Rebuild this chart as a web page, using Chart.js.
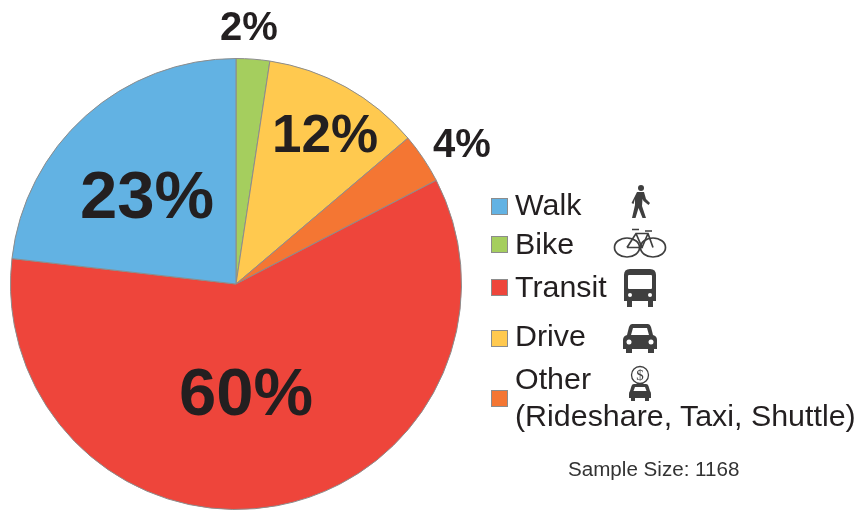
<!DOCTYPE html>
<html>
<head>
<meta charset="utf-8">
<title>Mode share</title>
<script src="https://cdn.jsdelivr.net/npm/chart.js@4"></script>
<style>
  html, body { margin:0; padding:0; background:#fff; }
  #wrap { position:relative; width:858px; height:510px; overflow:hidden; font-family:'Liberation Sans', Arial, sans-serif; color:#231F20; }
  #wrap canvas { position:absolute; left:0; top:0; }
  #icons { position:absolute; left:0; top:0; }
  .swatch { position:absolute; left:491px; width:15px; height:15px; border:1px solid #8c8c8c; }
  .legend-text { position:absolute; left:515px; font-size:29px; line-height:37px; white-space:nowrap; transform:scaleX(1.048); transform-origin:left top; }
  #sample { position:absolute; left:568px; top:458px; font-size:20px; line-height:22px; color:#333; white-space:nowrap; transform:scaleX(1.03); transform-origin:left top; }
</style>
</head>
<body>
<div id="wrap">
  <canvas id="chart-mode" width="858" height="510"></canvas>
  <svg id="icons" width="858" height="510" viewBox="0 0 858 510" fill="#3f3f3f">
    <!-- walker -->
    <circle cx="641" cy="188" r="3"/>
    <path d="M637 192h7l2 7 4 4-1.500 2-5-4-1-2-.5 7 4 12h-3.500l-4-10-3 10h-3.500l3-13v-6l-1.500 5-2-1z"/>
    <!-- bike -->
    <g fill="none" stroke="#3f3f3f" stroke-width="1.700">
      <ellipse cx="627" cy="247.500" rx="12.500" ry="9.500"/>
      <ellipse cx="653" cy="247.500" rx="12.500" ry="9.500"/>
      <path d="M627 247.500l9-14h12l5 14M636 233.500l6 14h-15M648 233.500l-6 14M632 229.500h7M645 231h7"/>
    </g>
    <!-- bus -->
    <path d="M630 269h20q6 0 6 6v26h-3v6h-5v-6h-16v6h-5v-6h-3v-26q0-6 6-6z"/>
    <rect x="628" y="275" width="24" height="14" rx="1" fill="#fff"/>
    <circle cx="630" cy="295" r="2" fill="#fff"/><circle cx="650" cy="295" r="2" fill="#fff"/>
    <!-- car -->
    <path d="M632 324H648Q650 324 651 327L653 335Q657 336 657 340V349H654V353H648V349H632V353H626V349H623V340Q623 336 627 335L629 327Q630 324 632 324Z"/>
    <path d="M633 328H647L649 335H631Z" fill="#fff"/>
    <circle cx="629" cy="342" r="2.500" fill="#fff"/><circle cx="651" cy="342" r="2.500" fill="#fff"/>
    <!-- rideshare -->
    <circle cx="640" cy="375" r="8.500" fill="none" stroke="#3f3f3f" stroke-width="1.300"/>
    <path d="M634 384H646Q648 384 648.500 386L650 391Q651 392 651 394V398H649V401H645V398H635V401H631V398H629V394Q629 392 630 391L631.500 386Q632 384 634 384Z"/>
    <path d="M635 387H645L646.500 391H633.500Z" fill="#fff"/>
    <text x="640" y="380" text-anchor="middle" font-family="'Liberation Serif', serif" font-size="15">$</text>
  </svg>
  <div id="legend"></div>
  <div id="sample"></div>
</div>
<script>
// slices clockwise from 12 o'clock
const categories = ['Bike', 'Drive', 'Other', 'Transit', 'Walk'];
const shares = [2.4, 11.4, 3.6, 59.4, 23.2];
const shareLabels = ['2%', '12%', '4%', '60%', '23%'];
const sliceColors = ['#A5CE5E', '#FFC94F', '#F47633', '#EE453B', '#62B2E3'];

const legendOrder = ['Walk', 'Bike', 'Transit', 'Drive', 'Other'];
const legendLines = {
  Walk: ['Walk'],
  Bike: ['Bike'],
  Transit: ['Transit'],
  Drive: ['Drive'],
  Other: ['Other', '(Rideshare, Taxi, Shuttle)'],
};
const sampleNote = 'Sample Size: 1168';

// layout only, y is the text baseline
const labelLayout = {
  Bike:    { x:249, y:40,  size:40 },
  Drive:   { x:325, y:152, size:53 },
  Other:   { x:462, y:157, size:40 },
  Transit: { x:246, y:415, size:67 },
  Walk:    { x:147, y:218, size:67 },
};
const swatchTop = { Walk:198, Bike:236, Transit:279, Drive:330, Other:390 };
const textTop = { Walk:187, Bike:226, Transit:269, Drive:318, Other:361 };

const percentLabels = {
  id:'percentLabels',
  afterDatasetsDraw(chart){
    const ctx = chart.ctx;
    ctx.save();
    ctx.fillStyle = '#231F20';
    ctx.textAlign = 'center';
    ctx.textBaseline = 'alphabetic';
    categories.forEach((c, i) => {
      const p = labelLayout[c];
      ctx.font = `bold ${p.size}px 'Liberation Sans', Arial, sans-serif`;
      ctx.fillText(shareLabels[i], p.x, p.y);
    });
    ctx.restore();
  }
};

function renderLegend(){
  const box = document.getElementById('legend');
  legendOrder.forEach(name => {
    const sw = document.createElement('div');
    sw.className = 'swatch';
    sw.style.top = swatchTop[name] + 'px';
    sw.style.background = sliceColors[categories.indexOf(name)];
    box.appendChild(sw);
    const t = document.createElement('div');
    t.className = 'legend-text';
    t.style.top = textTop[name] + 'px';
    t.innerHTML = legendLines[name].join('<br>');
    box.appendChild(t);
  });
  document.getElementById('sample').textContent = sampleNote;
}

renderLegend();
new Chart(document.getElementById('chart-mode'), {
  type:'pie',
  data:{ labels:categories, datasets:[{ data:shares, backgroundColor:sliceColors, borderColor:'#8c8c8c', borderWidth:1, borderAlign:'center' }] },
  options:{
    responsive:false, animation:false,
    layout:{ padding:{ left:10, right:396, top:58, bottom:0 } },
    plugins:{ legend:{ display:false }, tooltip:{ enabled:false } },
  },
  plugins:[percentLabels],
});
</script>
</body>
</html>
